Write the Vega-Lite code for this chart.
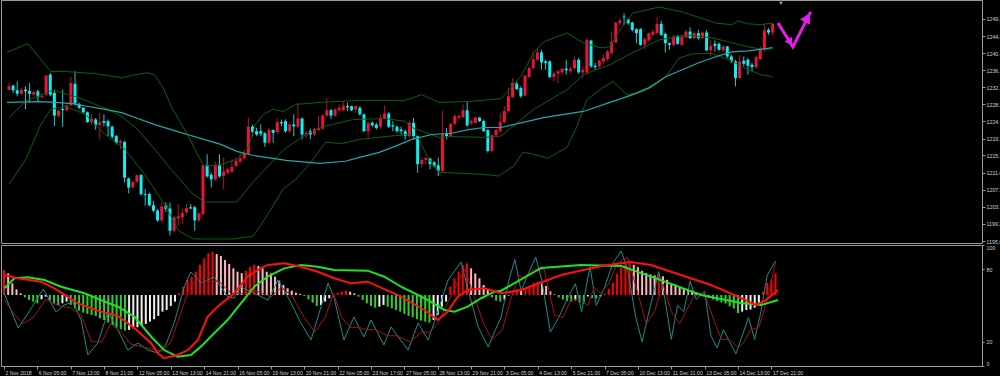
{
"$schema":"https://vega.github.io/schema/vega-lite/v6.json",
"background":"#000000",
"padding":{"left":-1,"top":-1,"right":0,"bottom":0},
"spacing":2,
"bounds":"flush",
"config":{"view":{"stroke":"#9a9a9a","strokeWidth":1},"axis":{"grid":false,"labelFont":"Liberation Sans","labelColor":"#d0d0d0","tickColor":"#9a9a9a","domain":false,"title":null,"labelFontSize":5.3,"labelOverlap":false,"tickCount":40}},
"datasets":{
"candles":[
{"i":0,"o":1231.8,"h":1233.4,"l":1231.65,"c":1232.6},{"i":1,"o":1232.8,"h":1233.0,"l":1231.0,"c":1231.65},{"i":2,"o":1231.65,"h":1233.8,"l":1230.2,"c":1230.8},{"i":3,"o":1230.8,"h":1232.2,"l":1230.6,"c":1231.8},{"i":4,"o":1231.8,"h":1232.6,"l":1227.0,"c":1231.4},{"i":5,"o":1231.5,"h":1233.4,"l":1228.6,"c":1230.8},{"i":6,"o":1230.6,"h":1231.4,"l":1230.2,"c":1231.25},{"i":7,"o":1231.4,"h":1231.8,"l":1229.0,"c":1230.0},{"i":8,"o":1230.0,"h":1230.8,"l":1229.6,"c":1230.3},{"i":9,"o":1230.6,"h":1235.45,"l":1230.2,"c":1235.2},
{"i":10,"o":1235.45,"h":1235.85,"l":1230.2,"c":1230.6},{"i":11,"o":1231.0,"h":1231.8,"l":1222.9,"c":1225.5},{"i":12,"o":1225.5,"h":1227.0,"l":1225.0,"c":1226.7},{"i":13,"o":1227.1,"h":1231.8,"l":1222.8,"c":1226.8},{"i":14,"o":1226.8,"h":1228.2,"l":1226.5,"c":1228.0},{"i":15,"o":1228.0,"h":1234.9,"l":1227.8,"c":1233.4},{"i":16,"o":1233.2,"h":1236.25,"l":1228.0,"c":1228.4},{"i":17,"o":1228.35,"h":1228.6,"l":1227.1,"c":1227.4},{"i":18,"o":1227.4,"h":1227.6,"l":1226.0,"c":1226.3},{"i":19,"o":1226.3,"h":1226.5,"l":1223.75,"c":1223.9},
{"i":20,"o":1223.9,"h":1225.8,"l":1223.3,"c":1224.7},{"i":21,"o":1224.55,"h":1224.9,"l":1222.1,"c":1223.2},{"i":22,"o":1223.2,"h":1226.2,"l":1219.7,"c":1223.9},{"i":23,"o":1224.15,"h":1225.8,"l":1222.9,"c":1223.75},{"i":24,"o":1224.15,"h":1224.55,"l":1220.5,"c":1222.9},{"i":25,"o":1222.8,"h":1223.1,"l":1219.9,"c":1220.35},{"i":26,"o":1220.5,"h":1220.8,"l":1218.5,"c":1218.9},{"i":27,"o":1218.9,"h":1219.7,"l":1217.3,"c":1219.3},{"i":28,"o":1219.1,"h":1219.3,"l":1209.2,"c":1210.4},{"i":29,"o":1210.2,"h":1210.4,"l":1206.6,"c":1208.0},
{"i":30,"o":1208.0,"h":1209.6,"l":1207.8,"c":1209.4},{"i":31,"o":1209.4,"h":1211.2,"l":1209.2,"c":1211.0},{"i":32,"o":1211.1,"h":1211.2,"l":1206.0,"c":1206.4},{"i":33,"o":1206.4,"h":1207.6,"l":1203.6,"c":1206.2},{"i":34,"o":1206.4,"h":1206.8,"l":1203.4,"c":1203.7},{"i":35,"o":1203.7,"h":1204.8,"l":1202.0,"c":1202.4},{"i":36,"o":1202.4,"h":1202.8,"l":1199.7,"c":1200.0},{"i":37,"o":1200.0,"h":1204.4,"l":1199.5,"c":1203.4},{"i":38,"o":1203.6,"h":1204.4,"l":1202.0,"c":1202.8},{"i":39,"o":1202.9,"h":1204.4,"l":1196.3,"c":1197.5},
{"i":40,"o":1197.5,"h":1201.2,"l":1197.2,"c":1200.75},{"i":41,"o":1200.5,"h":1204.0,"l":1198.7,"c":1201.0},{"i":42,"o":1200.75,"h":1202.8,"l":1199.1,"c":1201.8},{"i":43,"o":1202.0,"h":1204.0,"l":1201.55,"c":1203.0},{"i":44,"o":1203.2,"h":1204.0,"l":1202.8,"c":1202.9},{"i":45,"o":1203.2,"h":1203.6,"l":1197.5,"c":1200.0},{"i":46,"o":1200.0,"h":1202.0,"l":1199.7,"c":1201.7},{"i":47,"o":1201.55,"h":1213.7,"l":1201.2,"c":1213.4},{"i":48,"o":1213.4,"h":1216.1,"l":1210.4,"c":1210.7},{"i":49,"o":1211.1,"h":1211.6,"l":1208.0,"c":1210.0},
{"i":50,"o":1210.0,"h":1214.2,"l":1209.6,"c":1213.4},{"i":51,"o":1213.4,"h":1216.1,"l":1210.4,"c":1210.7},{"i":52,"o":1210.8,"h":1215.3,"l":1207.6,"c":1211.9},{"i":53,"o":1211.6,"h":1212.9,"l":1211.2,"c":1212.45},{"i":54,"o":1211.9,"h":1214.9,"l":1211.6,"c":1213.0},{"i":55,"o":1213.25,"h":1215.3,"l":1212.9,"c":1214.5},{"i":56,"o":1214.3,"h":1216.5,"l":1213.9,"c":1215.1},{"i":57,"o":1215.1,"h":1216.9,"l":1214.9,"c":1216.25},{"i":58,"o":1216.25,"h":1224.95,"l":1216.1,"c":1222.8},{"i":59,"o":1222.8,"h":1223.3,"l":1220.5,"c":1221.5},
{"i":60,"o":1221.7,"h":1222.5,"l":1220.5,"c":1220.9},{"i":61,"o":1221.7,"h":1223.35,"l":1220.5,"c":1221.1},{"i":62,"o":1221.2,"h":1221.5,"l":1217.9,"c":1218.9},{"i":63,"o":1218.9,"h":1222.5,"l":1218.5,"c":1222.0},{"i":64,"o":1222.0,"h":1222.1,"l":1218.9,"c":1221.3},{"i":65,"o":1221.5,"h":1224.9,"l":1220.9,"c":1223.9},{"i":66,"o":1223.9,"h":1224.55,"l":1222.9,"c":1223.6},{"i":67,"o":1224.15,"h":1224.55,"l":1221.3,"c":1221.7},{"i":68,"o":1221.7,"h":1223.75,"l":1221.3,"c":1223.35},{"i":69,"o":1223.35,"h":1225.8,"l":1220.5,"c":1222.9},
{"i":70,"o":1222.8,"h":1228.6,"l":1222.5,"c":1224.8},{"i":71,"o":1224.8,"h":1225.0,"l":1219.7,"c":1220.9},{"i":72,"o":1220.9,"h":1221.7,"l":1220.1,"c":1221.3},{"i":73,"o":1221.7,"h":1222.3,"l":1219.7,"c":1220.9},{"i":74,"o":1220.9,"h":1222.5,"l":1220.5,"c":1222.3},{"i":75,"o":1222.0,"h":1225.4,"l":1221.7,"c":1222.5},{"i":76,"o":1222.3,"h":1225.8,"l":1222.1,"c":1225.5},{"i":77,"o":1225.5,"h":1229.8,"l":1225.0,"c":1226.8},{"i":78,"o":1226.8,"h":1227.1,"l":1224.7,"c":1225.5},{"i":79,"o":1225.5,"h":1227.4,"l":1225.2,"c":1227.0},
{"i":80,"o":1226.8,"h":1228.2,"l":1226.6,"c":1227.4},{"i":81,"o":1226.8,"h":1229.0,"l":1226.6,"c":1227.9},{"i":82,"o":1227.8,"h":1228.6,"l":1226.6,"c":1227.5},{"i":83,"o":1227.8,"h":1227.9,"l":1226.6,"c":1226.8},{"i":84,"o":1227.0,"h":1227.9,"l":1226.2,"c":1227.8},{"i":85,"o":1227.4,"h":1227.8,"l":1225.5,"c":1225.8},{"i":86,"o":1225.8,"h":1226.0,"l":1221.5,"c":1221.7},{"i":87,"o":1221.7,"h":1224.15,"l":1220.1,"c":1223.6},{"i":88,"o":1223.75,"h":1224.15,"l":1222.8,"c":1223.1},{"i":89,"o":1223.3,"h":1223.75,"l":1222.1,"c":1222.5},
{"i":90,"o":1222.8,"h":1225.8,"l":1222.3,"c":1225.0},{"i":91,"o":1224.7,"h":1227.9,"l":1224.55,"c":1226.0},{"i":92,"o":1226.0,"h":1226.3,"l":1222.5,"c":1222.8},{"i":93,"o":1223.1,"h":1224.15,"l":1221.7,"c":1222.8},{"i":94,"o":1222.8,"h":1223.1,"l":1221.3,"c":1221.7},{"i":95,"o":1222.1,"h":1222.8,"l":1220.9,"c":1221.7},{"i":96,"o":1221.7,"h":1222.1,"l":1219.7,"c":1220.5},{"i":97,"o":1220.5,"h":1224.15,"l":1220.1,"c":1223.75},{"i":98,"o":1223.75,"h":1224.9,"l":1219.9,"c":1220.5},{"i":99,"o":1220.5,"h":1220.7,"l":1211.6,"c":1213.7},
{"i":100,"o":1213.7,"h":1215.3,"l":1212.85,"c":1214.7},{"i":101,"o":1214.7,"h":1215.3,"l":1213.7,"c":1215.2},{"i":102,"o":1215.0,"h":1215.3,"l":1212.45,"c":1213.7},{"i":103,"o":1214.1,"h":1214.5,"l":1212.85,"c":1213.25},{"i":104,"o":1213.4,"h":1215.3,"l":1210.8,"c":1212.05},{"i":105,"o":1212.05,"h":1226.6,"l":1211.6,"c":1221.1},{"i":106,"o":1221.1,"h":1222.5,"l":1219.7,"c":1220.5},{"i":107,"o":1220.5,"h":1223.75,"l":1220.1,"c":1223.5},{"i":108,"o":1223.5,"h":1225.8,"l":1223.1,"c":1225.4},{"i":109,"o":1225.0,"h":1225.8,"l":1224.55,"c":1225.4},
{"i":110,"o":1225.1,"h":1228.2,"l":1225.0,"c":1226.8},{"i":111,"o":1226.8,"h":1229.0,"l":1222.8,"c":1223.1},{"i":112,"o":1223.6,"h":1224.55,"l":1223.1,"c":1224.15},{"i":113,"o":1223.75,"h":1225.2,"l":1223.6,"c":1225.0},{"i":114,"o":1225.0,"h":1225.2,"l":1223.9,"c":1224.15},{"i":115,"o":1224.15,"h":1224.55,"l":1221.5,"c":1221.7},{"i":116,"o":1222.0,"h":1222.3,"l":1216.5,"c":1216.9},{"i":117,"o":1216.9,"h":1220.9,"l":1216.6,"c":1220.7},{"i":118,"o":1220.7,"h":1222.3,"l":1220.35,"c":1222.0},{"i":119,"o":1221.7,"h":1226.2,"l":1221.3,"c":1223.9},
{"i":120,"o":1223.9,"h":1227.8,"l":1223.6,"c":1226.6},{"i":121,"o":1226.6,"h":1232.2,"l":1226.2,"c":1230.2},{"i":122,"o":1230.04,"h":1234.64,"l":1229.8,"c":1233.43},{"i":123,"o":1233.26,"h":1233.83,"l":1231.65,"c":1231.97},{"i":124,"o":1232.2,"h":1232.6,"l":1229.8,"c":1230.2},{"i":125,"o":1230.36,"h":1235.44,"l":1230.2,"c":1235.2},{"i":126,"o":1234.88,"h":1237.46,"l":1234.64,"c":1237.06},{"i":127,"o":1237.06,"h":1241.1,"l":1236.65,"c":1239.24},{"i":128,"o":1239.07,"h":1241.9,"l":1238.67,"c":1240.85},{"i":129,"o":1240.85,"h":1241.5,"l":1236.65,"c":1238.43},
{"i":130,"o":1238.67,"h":1239.07,"l":1236.65,"c":1238.27},{"i":131,"o":1238.67,"h":1238.91,"l":1234.64,"c":1234.88},{"i":132,"o":1234.88,"h":1236.25,"l":1233.83,"c":1235.7},{"i":133,"o":1235.7,"h":1236.65,"l":1233.43,"c":1236.25},{"i":134,"o":1236.0,"h":1237.06,"l":1235.44,"c":1236.9},{"i":135,"o":1236.9,"h":1239.07,"l":1235.44,"c":1236.5},{"i":136,"o":1236.25,"h":1237.46,"l":1235.85,"c":1236.9},{"i":137,"o":1237.06,"h":1239.88,"l":1236.65,"c":1239.07},{"i":138,"o":1239.07,"h":1239.48,"l":1235.7,"c":1236.0},{"i":139,"o":1236.0,"h":1237.46,"l":1234.64,"c":1236.65},
{"i":140,"o":1236.0,"h":1244.32,"l":1235.44,"c":1243.92},{"i":141,"o":1243.75,"h":1243.92,"l":1237.06,"c":1237.46},{"i":142,"o":1237.62,"h":1238.27,"l":1236.65,"c":1237.3},{"i":143,"o":1237.46,"h":1239.07,"l":1237.06,"c":1238.83},{"i":144,"o":1238.67,"h":1240.28,"l":1238.27,"c":1239.48},{"i":145,"o":1239.24,"h":1241.5,"l":1238.67,"c":1241.1},{"i":146,"o":1240.7,"h":1245.93,"l":1240.28,"c":1243.51},{"i":147,"o":1243.27,"h":1248.35,"l":1243.1,"c":1248.1},{"i":148,"o":1247.95,"h":1249.16,"l":1247.55,"c":1248.6},{"i":149,"o":1249.57,"h":1250.37,"l":1247.55,"c":1249.4},
{"i":150,"o":1248.92,"h":1249.16,"l":1247.55,"c":1247.95},{"i":151,"o":1248.1,"h":1248.35,"l":1245.93,"c":1246.34},{"i":152,"o":1246.5,"h":1246.74,"l":1243.1,"c":1245.53},{"i":153,"o":1246.5,"h":1246.74,"l":1242.46,"c":1242.7},{"i":154,"o":1242.7,"h":1244.56,"l":1241.5,"c":1244.08},{"i":155,"o":1243.75,"h":1245.69,"l":1243.51,"c":1245.53},{"i":156,"o":1245.13,"h":1246.34,"l":1244.88,"c":1245.93},{"i":157,"o":1245.53,"h":1249.4,"l":1245.37,"c":1247.79},{"i":158,"o":1247.79,"h":1248.6,"l":1244.88,"c":1245.13},{"i":159,"o":1245.37,"h":1245.69,"l":1240.85,"c":1243.1},
{"i":160,"o":1243.1,"h":1243.27,"l":1241.5,"c":1242.7},{"i":161,"o":1242.7,"h":1245.13,"l":1242.3,"c":1244.72},{"i":162,"o":1244.88,"h":1245.13,"l":1242.7,"c":1242.95},{"i":163,"o":1242.7,"h":1245.13,"l":1242.3,"c":1244.72},{"i":164,"o":1244.56,"h":1246.34,"l":1244.32,"c":1245.93},{"i":165,"o":1245.93,"h":1246.98,"l":1244.08,"c":1244.32},{"i":166,"o":1244.32,"h":1245.93,"l":1244.08,"c":1245.53},{"i":167,"o":1245.53,"h":1246.34,"l":1243.92,"c":1244.32},{"i":168,"o":1244.32,"h":1245.93,"l":1244.08,"c":1245.69},{"i":169,"o":1245.69,"h":1246.34,"l":1241.1,"c":1241.33},
{"i":170,"o":1241.33,"h":1243.92,"l":1239.88,"c":1242.46},{"i":171,"o":1242.95,"h":1243.75,"l":1241.1,"c":1242.46},{"i":172,"o":1242.95,"h":1243.27,"l":1241.33,"c":1241.5},{"i":173,"o":1241.33,"h":1242.7,"l":1241.1,"c":1242.3},{"i":174,"o":1242.3,"h":1242.46,"l":1239.48,"c":1239.88},{"i":175,"o":1239.88,"h":1240.28,"l":1238.27,"c":1238.67},{"i":176,"o":1238.67,"h":1239.07,"l":1232.6,"c":1234.64},{"i":177,"o":1234.64,"h":1240.28,"l":1234.4,"c":1238.67},{"i":178,"o":1238.83,"h":1239.88,"l":1237.46,"c":1238.1},{"i":179,"o":1239.07,"h":1239.48,"l":1235.44,"c":1237.62},
{"i":180,"o":1237.86,"h":1238.27,"l":1236.25,"c":1237.3},{"i":181,"o":1237.2,"h":1240.04,"l":1237.06,"c":1239.72},{"i":182,"o":1239.24,"h":1242.46,"l":1239.07,"c":1241.66},{"i":183,"o":1241.5,"h":1247.95,"l":1240.85,"c":1246.18},{"i":184,"o":1246.34,"h":1246.74,"l":1245.13,"c":1245.69},{"i":185,"o":1245.69,"h":1248.04,"l":1244.86,"c":1247.83}
],
"bands":[
{"s":"u","i":-0.45,"v":1240.9},{"s":"u","i":4.6,"v":1243.0},{"s":"u","i":10.1,"v":1236.2},{"s":"u","i":13.7,"v":1236.2},{"s":"u","i":20.9,"v":1235.7},{"s":"u","i":27.3,"v":1234.7},{"s":"u","i":30.5,"v":1235.4},{"s":"u","i":33.6,"v":1235.9},{"s":"u","i":35.3,"v":1235.4},{"s":"u","i":37.6,"v":1231.8},{"s":"u","i":39.3,"v":1227.7},{"s":"u","i":43.2,"v":1220.9},{"s":"u","i":47.2,"v":1213.2},{"s":"u","i":51.3,"v":1213.6},{"s":"u","i":55.2,"v":1214.9},{"s":"u","i":58,"v":1217.8},{"s":"u","i":59.7,"v":1223.3},{"s":"u","i":61.6,"v":1225.8},{"s":"u","i":64,"v":1227.0},{"s":"u","i":66.4,"v":1226.5},{"s":"u","i":69.5,"v":1228.2},{"s":"u","i":75.3,"v":1228.7},{"s":"u","i":84.9,"v":1229.2},{"s":"u","i":95.9,"v":1229.2},{"s":"u","i":100,"v":1230.6},{"s":"u","i":104.1,"v":1228.7},{"s":"u","i":111.3,"v":1228.9},{"s":"u","i":119.2,"v":1229.6},{"s":"u","i":124,"v":1235.0},{"s":"u","i":127.1,"v":1240.8},{"s":"u","i":129.5,"v":1243.4},{"s":"u","i":135.2,"v":1245.6},{"s":"u","i":139.1,"v":1243.2},{"s":"u","i":143.2,"v":1242.0},{"s":"u","i":145.6,"v":1242.2},{"s":"u","i":148,"v":1246.3},{"s":"u","i":151.1,"v":1250.4},{"s":"u","i":157.5,"v":1251.9},{"s":"u","i":163.1,"v":1250.7},{"s":"u","i":171.2,"v":1248.0},{"s":"u","i":175.1,"v":1247.6},{"s":"u","i":176.7,"v":1248.5},{"s":"u","i":179.1,"v":1247.8},{"s":"u","i":182.2,"v":1247.6},{"s":"u","i":185,"v":1248.0},
{"s":"m","i":0,"v":1225.0},{"s":"m","i":4.1,"v":1229.0},{"s":"m","i":10.6,"v":1231.7},{"s":"m","i":16.8,"v":1229.9},{"s":"m","i":24,"v":1227.0},{"s":"m","i":27.3,"v":1225.3},{"s":"m","i":31.2,"v":1222.1},{"s":"m","i":35.3,"v":1217.3},{"s":"m","i":39.3,"v":1212.4},{"s":"m","i":44.1,"v":1206.9},{"s":"m","i":47.2,"v":1204.5},{"s":"m","i":55.2,"v":1204.5},{"s":"m","i":59.2,"v":1209.4},{"s":"m","i":66.4,"v":1217.1},{"s":"m","i":71.2,"v":1220.4},{"s":"m","i":75.3,"v":1222.6},{"s":"m","i":83.2,"v":1224.5},{"s":"m","i":91.1,"v":1224.8},{"s":"m","i":95.9,"v":1224.1},{"s":"m","i":97.6,"v":1222.6},{"s":"m","i":104.1,"v":1220.2},{"s":"m","i":107.2,"v":1220.4},{"s":"m","i":115.1,"v":1220.2},{"s":"m","i":119.2,"v":1220.5},{"s":"m","i":127.1,"v":1227.0},{"s":"m","i":135.2,"v":1231.8},{"s":"m","i":139.1,"v":1235.4},{"s":"m","i":145.6,"v":1237.9},{"s":"m","i":151.1,"v":1240.8},{"s":"m","i":157.5,"v":1243.9},{"s":"m","i":164,"v":1245.1},{"s":"m","i":170.3,"v":1244.4},{"s":"m","i":175.1,"v":1243.2},{"s":"m","i":179.1,"v":1242.2},{"s":"m","i":182.2,"v":1241.7},{"s":"m","i":185,"v":1241.7},
{"s":"l","i":0,"v":1208.8},{"s":"l","i":4.1,"v":1214.9},{"s":"l","i":7.7,"v":1223.3},{"s":"l","i":10.1,"v":1227.0},{"s":"l","i":13.7,"v":1227.7},{"s":"l","i":18.5,"v":1225.8},{"s":"l","i":23.3,"v":1220.9},{"s":"l","i":28.1,"v":1217.3},{"s":"l","i":32.9,"v":1211.2},{"s":"l","i":37.6,"v":1204.0},{"s":"l","i":41.2,"v":1197.4},{"s":"l","i":44.8,"v":1195.5},{"s":"l","i":54.4,"v":1195.5},{"s":"l","i":59.2,"v":1196.2},{"s":"l","i":62.8,"v":1201.6},{"s":"l","i":66.4,"v":1207.6},{"s":"l","i":69.5,"v":1210.0},{"s":"l","i":73.1,"v":1214.1},{"s":"l","i":76.7,"v":1219.0},{"s":"l","i":80.8,"v":1218.7},{"s":"l","i":84.9,"v":1219.7},{"s":"l","i":91.1,"v":1220.4},{"s":"l","i":96.9,"v":1220.9},{"s":"l","i":99.3,"v":1219.7},{"s":"l","i":101.7,"v":1214.9},{"s":"l","i":104.3,"v":1211.7},{"s":"l","i":115.1,"v":1211.2},{"s":"l","i":118.5,"v":1210.8},{"s":"l","i":122.3,"v":1213.2},{"s":"l","i":124.5,"v":1216.6},{"s":"l","i":127.1,"v":1216.1},{"s":"l","i":130.5,"v":1215.1},{"s":"l","i":135.2,"v":1217.8},{"s":"l","i":137.6,"v":1222.9},{"s":"l","i":140,"v":1229.4},{"s":"l","i":143.2,"v":1231.8},{"s":"l","i":146.3,"v":1233.8},{"s":"l","i":149.6,"v":1230.6},{"s":"l","i":152.8,"v":1231.1},{"s":"l","i":155.9,"v":1232.5},{"s":"l","i":159.2,"v":1235.0},{"s":"l","i":162.3,"v":1239.5},{"s":"l","i":165.5,"v":1240.5},{"s":"l","i":170.3,"v":1240.6},{"s":"l","i":175.1,"v":1238.8},{"s":"l","i":178,"v":1237.1},{"s":"l","i":182.2,"v":1235.4},{"s":"l","i":185,"v":1235.0}
],
"ma":[
{"i":-0.45,"v":1228.7},{"i":7.2,"v":1228.9},{"i":11.3,"v":1228.7},{"i":15.3,"v":1228.4},{"i":19.2,"v":1227.7},{"i":23.3,"v":1227.0},{"i":27.3,"v":1226.2},{"i":31.2,"v":1224.8},{"i":35.3,"v":1223.3},{"i":39.3,"v":1222.1},{"i":43.2,"v":1220.9},{"i":47.2,"v":1219.7},{"i":51.3,"v":1218.5},{"i":55.2,"v":1216.8},{"i":59.2,"v":1215.8},{"i":64,"v":1215.1},{"i":67.1,"v":1214.6},{"i":75.3,"v":1213.9},{"i":81.5,"v":1214.4},{"i":84.9,"v":1215.35},{"i":89.7,"v":1216.55},{"i":93.5,"v":1218.0},{"i":97.6,"v":1219.7},{"i":102.4,"v":1220.9},{"i":107.2,"v":1221.2},{"i":111.3,"v":1222.1},{"i":115.1,"v":1222.6},{"i":119.2,"v":1222.6},{"i":129.5,"v":1225.0},{"i":139.1,"v":1226.5},{"i":145.6,"v":1228.7},{"i":151.1,"v":1230.6},{"i":155.1,"v":1232.3},{"i":159.2,"v":1235.0},{"i":163.1,"v":1236.65},{"i":167.1,"v":1238.35},{"i":171.2,"v":1239.8},{"i":175.1,"v":1241.0},{"i":179.1,"v":1241.25},{"i":185,"v":1242.0}
],
"hist":[
{"i":0,"osma":0.825},{"i":1,"osma":0.715},{"i":2,"osma":0.385},{"i":3,"osma":0.187},{"i":4,"osma":0.055},{"i":5,"osma":-0.077},{"i":6,"osma":-0.165},{"i":7,"osma":-0.22},{"i":8,"osma":-0.275},{"i":9,"osma":-0.143},{"i":10,"osma":-0.055},{"i":11,"osma":-0.187},{"i":12,"osma":-0.297},{"i":13,"osma":-0.33},{"i":14,"osma":-0.275},{"i":15,"osma":-0.22},{"i":16,"osma":-0.33},{"i":17,"osma":-0.44},{"i":18,"osma":-0.517},{"i":19,"osma":-0.583},{"i":20,"osma":-0.627},{"i":21,"osma":-0.66},{"i":22,"osma":-0.693},{"i":23,"osma":-0.77},{"i":24,"osma":-0.825},{"i":25,"osma":-0.913},{"i":26,"osma":-0.99},{"i":27,"osma":-1.067},{"i":28,"osma":-1.133},{"i":29,"osma":-1.177},{"i":30,"osma":-1.155},{"i":31,"osma":-1.1},{"i":32,"osma":-1.067},{"i":33,"osma":-1.023},{"i":34,"osma":-0.957},{"i":35,"osma":-0.88},{"i":36,"osma":-0.803},{"i":37,"osma":-0.693},{"i":38,"osma":-0.55},{"i":39,"osma":-0.495},{"i":40,"osma":-0.363},{"i":41,"osma":-0.22},{"i":42,"osma":0.055},{"i":43,"osma":0.275},{"i":44,"osma":0.495},{"i":45,"osma":0.605},{"i":46,"osma":0.77},{"i":47,"osma":0.99},{"i":48,"osma":1.21},{"i":49,"osma":1.375},{"i":50,"osma":1.43},{"i":51,"osma":1.353},{"i":52,"osma":1.287},{"i":53,"osma":1.155},{"i":54,"osma":1.023},{"i":55,"osma":0.88},{"i":56,"osma":0.77},{"i":57,"osma":0.72},{"i":58,"osma":0.8},{"i":59,"osma":0.93},{"i":60,"osma":1.0},{"i":61,"osma":0.96},{"i":62,"osma":0.88},{"i":63,"osma":0.77},{"i":64,"osma":0.715},{"i":65,"osma":0.605},{"i":66,"osma":0.473},{"i":67,"osma":0.33},{"i":68,"osma":0.22},{"i":69,"osma":0.143},{"i":70,"osma":0.077},{"i":71,"osma":0.033},{"i":72,"osma":-0.033},{"i":73,"osma":-0.143},{"i":74,"osma":-0.253},{"i":75,"osma":-0.363},{"i":76,"osma":-0.33},{"i":77,"osma":-0.22},{"i":78,"osma":-0.11},{"i":79,"osma":0.01},{"i":80,"osma":0.077},{"i":81,"osma":0.11},{"i":82,"osma":0.143},{"i":83,"osma":0.11},{"i":84,"osma":0.055},{"i":85,"osma":-0.055},{"i":86,"osma":-0.165},{"i":87,"osma":-0.275},{"i":88,"osma":-0.363},{"i":89,"osma":-0.418},{"i":90,"osma":-0.385},{"i":91,"osma":-0.33},{"i":92,"osma":-0.385},{"i":93,"osma":-0.44},{"i":94,"osma":-0.495},{"i":95,"osma":-0.55},{"i":96,"osma":-0.627},{"i":97,"osma":-0.693},{"i":98,"osma":-0.737},{"i":99,"osma":-0.803},{"i":100,"osma":-0.847},{"i":101,"osma":-0.88},{"i":102,"osma":-0.913},{"i":103,"osma":-0.825},{"i":104,"osma":-0.66},{"i":105,"osma":-0.385},{"i":106,"osma":-0.22},{"i":107,"osma":0.275},{"i":108,"osma":0.55},{"i":109,"osma":0.77},{"i":110,"osma":0.99},{"i":111,"osma":1.045},{"i":112,"osma":0.88},{"i":113,"osma":0.715},{"i":114,"osma":0.55},{"i":115,"osma":0.33},{"i":116,"osma":0.165},{"i":117,"osma":-0.077},{"i":118,"osma":-0.187},{"i":119,"osma":-0.22},
{"i":120,"osma":-0.15},{"i":121,"osma":-0.02},{"i":122,"osma":0.12},{"i":123,"osma":0.18},{"i":124,"osma":0.15},{"i":125,"osma":0.22},{"i":126,"osma":0.3},{"i":127,"osma":0.4},{"i":128,"osma":0.45},{"i":129,"osma":0.38},{"i":130,"osma":0.3},{"i":131,"osma":0.12},{"i":132,"osma":0.02},{"i":133,"osma":-0.08},{"i":134,"osma":-0.15},{"i":135,"osma":-0.2},{"i":136,"osma":-0.22},{"i":137,"osma":-0.18},{"i":138,"osma":-0.25},{"i":139,"osma":-0.28},{"i":140,"osma":-0.05},{"i":141,"osma":-0.1},{"i":142,"osma":-0.12},{"i":143,"osma":-0.05},{"i":144,"osma":0.05},{"i":145,"osma":0.2},{"i":146,"osma":0.4},{"i":147,"osma":0.7},{"i":148,"osma":0.9},{"i":149,"osma":1.0},{"i":150,"osma":1.05},{"i":151,"osma":1.0},{"i":152,"osma":0.92},{"i":153,"osma":0.8},{"i":154,"osma":0.72},{"i":155,"osma":0.68},{"i":156,"osma":0.65},{"i":157,"osma":0.7},{"i":158,"osma":0.62},{"i":159,"osma":0.5},{"i":160,"osma":0.4},{"i":161,"osma":0.35},{"i":162,"osma":0.28},{"i":163,"osma":0.22},{"i":164,"osma":0.2},{"i":165,"osma":0.15},{"i":166,"osma":0.1},{"i":167,"osma":0.05},{"i":168,"osma":0.02},{"i":169,"osma":-0.1},{"i":170,"osma":-0.15},{"i":171,"osma":-0.2},{"i":172,"osma":-0.25},{"i":173,"osma":-0.28},{"i":174,"osma":-0.38},{"i":175,"osma":-0.45},{"i":176,"osma":-0.6},{"i":177,"osma":-0.55},{"i":178,"osma":-0.5},{"i":179,"osma":-0.48},{"i":180,"osma":-0.42},{"i":181,"osma":-0.3},{"i":182,"osma":0.1},{"i":183,"osma":0.4},{"i":184,"osma":0.5},{"i":185,"osma":0.72}
],
"stoch":[
{"s":"K","i":0,"v":60.3},{"s":"K","i":1.7,"v":46},{"s":"K","i":3.4,"v":31.4},{"s":"K","i":5.8,"v":43.8},{"s":"K","i":9.4,"v":63.6},{"s":"K","i":12.5,"v":44.6},{"s":"K","i":14.4,"v":50.4},{"s":"K","i":16.5,"v":52.9},{"s":"K","i":18.5,"v":38},{"s":"K","i":20.1,"v":9.1},{"s":"K","i":22.5,"v":19},{"s":"K","i":24.9,"v":44.6},{"s":"K","i":27.3,"v":29.8},{"s":"K","i":29.7,"v":13.2},{"s":"K","i":32.1,"v":19},{"s":"K","i":34.5,"v":13.2},{"s":"K","i":36.9,"v":10.7},{"s":"K","i":38.8,"v":17.4},{"s":"K","i":40.8,"v":35.5},{"s":"K","i":43.2,"v":65.3},{"s":"K","i":44.8,"v":77.7},{"s":"K","i":47.2,"v":68.6},{"s":"K","i":50.4,"v":73.6},{"s":"K","i":53.7,"v":57},{"s":"K","i":55.2,"v":56.2},{"s":"K","i":56.8,"v":65.3},{"s":"K","i":59.9,"v":60.3},{"s":"K","i":63.3,"v":54.5},{"s":"K","i":65.7,"v":71.1},{"s":"K","i":68.1,"v":57},{"s":"K","i":71.2,"v":35.5},{"s":"K","i":73.6,"v":21.5},{"s":"K","i":76,"v":48.8},{"s":"K","i":77.7,"v":68.6},{"s":"K","i":79.1,"v":57},{"s":"K","i":81.5,"v":21.5},{"s":"K","i":83.9,"v":40.5},{"s":"K","i":86.3,"v":24},{"s":"K","i":88,"v":38},{"s":"K","i":91.1,"v":17.4},{"s":"K","i":92.8,"v":32.2},{"s":"K","i":96.9,"v":13.2},{"s":"K","i":99.3,"v":35.5},{"s":"K","i":101.7,"v":21.5},{"s":"K","i":103.1,"v":35.5},{"s":"K","i":106.5,"v":71.1},{"s":"K","i":109.6,"v":86},{"s":"K","i":111.3,"v":62.8},{"s":"K","i":113.7,"v":32.2},{"s":"K","i":116.1,"v":15.7},{"s":"K","i":117.5,"v":27.3},{"s":"K","i":119.2,"v":40.5},{"s":"K","i":121,"v":70},{"s":"K","i":122.5,"v":88},{"s":"K","i":124,"v":62},{"s":"K","i":125.5,"v":75},{"s":"K","i":127.5,"v":90},{"s":"K","i":129,"v":70},{"s":"K","i":131,"v":28},{"s":"K","i":133,"v":40},{"s":"K","i":135,"v":55},{"s":"K","i":137,"v":68},{"s":"K","i":138.5,"v":45},{"s":"K","i":140.5,"v":82},{"s":"K","i":142,"v":50},{"s":"K","i":144,"v":65},{"s":"K","i":146,"v":85},{"s":"K","i":148,"v":95},{"s":"K","i":149.5,"v":80},{"s":"K","i":151.5,"v":40},{"s":"K","i":153,"v":20},{"s":"K","i":155,"v":50},{"s":"K","i":157,"v":78},{"s":"K","i":158.5,"v":55},{"s":"K","i":160,"v":22},{"s":"K","i":161.5,"v":50},{"s":"K","i":163,"v":45},{"s":"K","i":164.5,"v":70},{"s":"K","i":166,"v":55},{"s":"K","i":168,"v":62},{"s":"K","i":169.5,"v":25},{"s":"K","i":171,"v":15},{"s":"K","i":172.5,"v":30},{"s":"K","i":174,"v":20},{"s":"K","i":175.5,"v":10},{"s":"K","i":177,"v":25},{"s":"K","i":178.5,"v":40},{"s":"K","i":180,"v":22},{"s":"K","i":181.5,"v":45},{"s":"K","i":183,"v":75},{"s":"K","i":185,"v":86.9},
{"s":"D","i":0,"v":55},{"s":"D","i":2,"v":45},{"s":"D","i":4.5,"v":35},{"s":"D","i":7,"v":40},{"s":"D","i":10,"v":55},{"s":"D","i":13,"v":50},{"s":"D","i":16,"v":48},{"s":"D","i":18.5,"v":42},{"s":"D","i":21,"v":20},{"s":"D","i":23.5,"v":20},{"s":"D","i":25.5,"v":35},{"s":"D","i":28,"v":28},{"s":"D","i":30.5,"v":18},{"s":"D","i":33,"v":16},{"s":"D","i":35.5,"v":14},{"s":"D","i":38,"v":12},{"s":"D","i":40,"v":20},{"s":"D","i":42,"v":40},{"s":"D","i":44.5,"v":65},{"s":"D","i":46.5,"v":73},{"s":"D","i":49,"v":70},{"s":"D","i":51.5,"v":70},{"s":"D","i":54.5,"v":60},{"s":"D","i":57,"v":60},{"s":"D","i":60.5,"v":62},{"s":"D","i":64,"v":57},{"s":"D","i":66.5,"v":65},{"s":"D","i":69,"v":58},{"s":"D","i":72,"v":40},{"s":"D","i":74.5,"v":28},{"s":"D","i":77,"v":40},{"s":"D","i":79,"v":60},{"s":"D","i":81,"v":40},{"s":"D","i":83,"v":32},{"s":"D","i":85,"v":32},{"s":"D","i":87,"v":30},{"s":"D","i":89,"v":30},{"s":"D","i":92,"v":25},{"s":"D","i":94,"v":25},{"s":"D","i":97.5,"v":20},{"s":"D","i":100,"v":28},{"s":"D","i":102,"v":28},{"s":"D","i":104,"v":35},{"s":"D","i":107.5,"v":60},{"s":"D","i":110.5,"v":80},{"s":"D","i":112.5,"v":60},{"s":"D","i":115,"v":35},{"s":"D","i":117,"v":22},{"s":"D","i":119.5,"v":30},{"s":"D","i":121.5,"v":55},{"s":"D","i":123.5,"v":75},{"s":"D","i":125,"v":72},{"s":"D","i":127,"v":80},{"s":"D","i":129.5,"v":80},{"s":"D","i":132,"v":42},{"s":"D","i":134,"v":40},{"s":"D","i":136,"v":55},{"s":"D","i":138.5,"v":55},{"s":"D","i":140,"v":50},{"s":"D","i":141.5,"v":65},{"s":"D","i":143,"v":60},{"s":"D","i":145,"v":68},{"s":"D","i":147,"v":85},{"s":"D","i":149.5,"v":90},{"s":"D","i":152,"v":60},{"s":"D","i":154,"v":35},{"s":"D","i":156,"v":45},{"s":"D","i":158,"v":68},{"s":"D","i":160,"v":45},{"s":"D","i":162,"v":35},{"s":"D","i":163.5,"v":45},{"s":"D","i":165.5,"v":58},{"s":"D","i":168,"v":60},{"s":"D","i":170,"v":40},{"s":"D","i":172,"v":22},{"s":"D","i":174,"v":22},{"s":"D","i":176,"v":15},{"s":"D","i":177.5,"v":20},{"s":"D","i":179,"v":30},{"s":"D","i":181,"v":32},{"s":"D","i":183,"v":55},{"s":"D","i":185,"v":86.1}
],
"macd":[
{"s":"G","i":0.1,"v":64.2},{"s":"G","i":2.5,"v":72.5},{"s":"G","i":5.7,"v":73.3},{"s":"G","i":9.7,"v":71.1},{"s":"G","i":13.7,"v":65.5},{"s":"G","i":19.3,"v":60.1},{"s":"G","i":23.3,"v":54.5},{"s":"G","i":27.3,"v":49},{"s":"G","i":31.3,"v":40.7},{"s":"G","i":35.3,"v":24.2},{"s":"G","i":38.4,"v":13.2},{"s":"G","i":41.6,"v":7.7},{"s":"G","i":44.8,"v":9.1},{"s":"G","i":47.2,"v":16},{"s":"G","i":50.4,"v":27},{"s":"G","i":53.6,"v":38},{"s":"G","i":56.8,"v":51.8},{"s":"G","i":60,"v":65.5},{"s":"G","i":63.2,"v":73.8},{"s":"G","i":67.2,"v":80.7},{"s":"G","i":71.2,"v":83.5},{"s":"G","i":75.2,"v":82},{"s":"G","i":79.2,"v":79.3},{"s":"G","i":87.2,"v":78.8},{"s":"G","i":91.2,"v":73.8},{"s":"G","i":95.2,"v":65.5},{"s":"G","i":100.8,"v":56},{"s":"G","i":105.6,"v":46.3},{"s":"G","i":108,"v":44.9},{"s":"G","i":111.2,"v":49},{"s":"G","i":114.4,"v":56},{"s":"G","i":117.6,"v":61.4},{"s":"G","i":119.2,"v":62.2},{"s":"G","i":128.8,"v":81},{"s":"G","i":138.4,"v":83.5},{"s":"G","i":148,"v":82.6},{"s":"G","i":157.5,"v":71},{"s":"G","i":167.1,"v":58.7},{"s":"G","i":176.7,"v":52},{"s":"G","i":181.5,"v":50.4},{"s":"G","i":185.6,"v":54.5},
{"s":"R","i":0.1,"v":75.2},{"s":"R","i":3.3,"v":72.5},{"s":"R","i":8.9,"v":69.7},{"s":"R","i":12.1,"v":64.2},{"s":"R","i":17.7,"v":51.8},{"s":"R","i":23.3,"v":44.9},{"s":"R","i":27.3,"v":41.3},{"s":"R","i":31.3,"v":31.1},{"s":"R","i":35.3,"v":18.8},{"s":"R","i":36.9,"v":10.5},{"s":"R","i":38.4,"v":6.4},{"s":"R","i":41.6,"v":9.1},{"s":"R","i":44.1,"v":13.2},{"s":"R","i":46.5,"v":21.5},{"s":"R","i":48.8,"v":40.7},{"s":"R","i":51.2,"v":49},{"s":"R","i":55.2,"v":60.1},{"s":"R","i":58.4,"v":73.8},{"s":"R","i":60.8,"v":79.3},{"s":"R","i":63.2,"v":83.5},{"s":"R","i":67.2,"v":84.9},{"s":"R","i":71.2,"v":82},{"s":"R","i":75.2,"v":77.9},{"s":"R","i":79.2,"v":72.5},{"s":"R","i":83.2,"v":68.3},{"s":"R","i":87.2,"v":69.7},{"s":"R","i":95.2,"v":57.3},{"s":"R","i":100.8,"v":46.3},{"s":"R","i":104,"v":38},{"s":"R","i":106.4,"v":44.9},{"s":"R","i":108.8,"v":57.3},{"s":"R","i":111.2,"v":62.8},{"s":"R","i":115.2,"v":64.2},{"s":"R","i":119.2,"v":60.1},{"s":"R","i":124,"v":62.8},{"s":"R","i":133.6,"v":75.2},{"s":"R","i":143.2,"v":82.6},{"s":"R","i":150.3,"v":86},{"s":"R","i":155.1,"v":83.5},{"s":"R","i":162.3,"v":75.2},{"s":"R","i":169.5,"v":67},{"s":"R","i":176.7,"v":56.2},{"s":"R","i":180.3,"v":50.4},{"s":"R","i":182.7,"v":54.5},{"s":"R","i":185.6,"v":62.8}
],
"arrow":[{"k":0,"i":186.3,"p":1248.0},{"k":1,"i":189.9,"p":1242.2},{"k":2,"i":194.2,"p":1250.7}]
},
"vconcat":[
{
"width":981,"height":243,
"encoding":{"x":{"field":"i","type":"quantitative","scale":{"domain":[-0.72,234.5],"nice":false,"zero":false},"axis":null}},
"layer":[
{"data":{"name":"candles"},"mark":{"type":"rule","strokeWidth":1},
 "encoding":{"y":{"field":"l","type":"quantitative","scale":{"domain":[1194.52,1253.6],"nice":false,"zero":false},
   "axis":{"orient":"right","values":[1249,1244.8,1240.7,1236.5,1232.4,1228.2,1224.1,1219.9,1215.8,1211.6,1207.5,1203.3,1199.2,1195],"format":".2f","tickCount":40,"tickSize":3,"labelPadding":1,"labelOverlap":false,"labelBaseline":"middle"}},
  "y2":{"field":"h"},
  "color":{"condition":{"test":"datum.c > datum.o","value":"#b0102c"},"value":"#22c8cc"}}},
{"data":{"name":"candles"},"mark":{"type":"bar","width":3,"orient":"vertical"},
 "encoding":{"y":{"field":"o","type":"quantitative"},"y2":{"field":"c"},
  "color":{"condition":{"test":"datum.c > datum.o","value":"#e8143c"},"value":"#10eef2"}}},
{"data":{"name":"bands"},"mark":{"type":"line","strokeWidth":1,"color":"#0b610b","clip":true},
 "encoding":{"y":{"field":"v","type":"quantitative"},"detail":{"field":"s"}}},
{"data":{"name":"ma"},"mark":{"type":"line","strokeWidth":1.2,"color":"#1fa8ae","clip":true},
 "encoding":{"y":{"field":"v","type":"quantitative"}}},
{"data":{"values":[{"p":1247.83}]},"mark":{"type":"rule","strokeWidth":1,"color":"#a8a8a8"},
 "encoding":{"y":{"field":"p","type":"quantitative"},"x":{"datum":-0.72},"x2":{"datum":234.5}}},
{"data":{"values":[{"t":"▾ GOLD,H4  1245.69 1248.04 1244.86 1247.83"}]},"mark":{"type":"text","align":"left","baseline":"middle","fontSize":5.3,"font":"Liberation Sans","color":"#e6e6e6"},
 "encoding":{"x":{"datum":0.5},"y":{"datum":1252.4},"text":{"field":"t"}}},
{"data":{"values":[{"t":"1247.83"}]},"mark":{"type":"rect","color":"#f2f2f2"},
 "encoding":{"x":{"datum":234.7},"x2":{"datum":240},"y":{"datum":1248.55},"y2":{"datum":1247.1}}},
{"data":{"values":[{"t":"1247.83"}]},"mark":{"type":"text","align":"left","baseline":"middle","fontSize":5.3,"font":"Liberation Sans","color":"#000000"},
 "encoding":{"x":{"datum":235.1},"y":{"datum":1247.83},"text":{"field":"t"}}},
{"data":{"name":"arrow"},"mark":{"type":"line","strokeWidth":3,"color":"#e41ee4"},
 "encoding":{"x":{"field":"i","type":"quantitative"},"y":{"field":"p","type":"quantitative"},"order":{"field":"k"}}},
{"data":{"values":[{"i":189.3,"p":1243.3}]},"mark":{"type":"point","shape":"triangle-up","filled":true,"size":80,"angle":148,"color":"#e41ee4","opacity":1},
 "encoding":{"x":{"field":"i","type":"quantitative"},"y":{"field":"p","type":"quantitative"}}},
{"data":{"values":[{"i":193.4,"p":1249.3}]},"mark":{"type":"point","shape":"triangle-up","filled":true,"size":130,"angle":27,"color":"#e41ee4","opacity":1},
 "encoding":{"x":{"field":"i","type":"quantitative"},"y":{"field":"p","type":"quantitative"}}},
{"data":{"values":[{"i":187.0,"p":1252.8}]},"mark":{"type":"point","shape":"triangle-down","filled":true,"size":12,"color":"#b0b0b0","opacity":1},
 "encoding":{"x":{"field":"i","type":"quantitative"},"y":{"field":"p","type":"quantitative"}}}
]
},
{
"width":981,"height":121,
"encoding":{"x":{"field":"i","type":"quantitative","scale":{"domain":[-0.72,234.5],"nice":false,"zero":false},
  "axis":{"orient":"bottom","values":[0,8,16,24,32,40,48,56,64,72,80,88,96,104,112,120,128,136,144,152,160,168,176,184],"tickCount":40,
   "labelExpr":"['2 Nov 2018','6 Nov 05:00','7 Nov 13:00','8 Nov 21:00','12 Nov 05:00','13 Nov 13:00','14 Nov 21:00','16 Nov 05:00','19 Nov 13:00','20 Nov 21:00','22 Nov 05:00','23 Nov 17:00','27 Nov 05:00','28 Nov 13:00','29 Nov 21:00','3 Dec 05:00','4 Dec 13:00','5 Dec 21:00','7 Dec 05:00','10 Dec 13:00','11 Dec 21:00','13 Dec 05:00','14 Dec 13:00','17 Dec 21:00'][round(datum.value/8)]",
   "labelAlign":"left","labelOffset":1,"tickSize":3,"labelPadding":1,"labelOverlap":false,"labelFlush":false,"labelFontSize":5.1}}},
"resolve":{"scale":{"y":"independent","color":"independent"}},
"layer":[
{"data":{"values":[{"lv":20},{"lv":80}]},"mark":{"type":"rule","strokeWidth":1,"strokeDash":[2,2],"color":"#8a8a8a"},
 "encoding":{"y":{"field":"lv","type":"quantitative","scale":{"domain":[0,100],"nice":false,"zero":false},
   "axis":{"orient":"right","values":[0,20,80,100],"tickCount":10,"tickSize":2,"labelPadding":2,"labelFlush":true,"labelOverlap":false}}}},
{"data":{"name":"hist"},
 "transform":[{"window":[{"op":"lag","field":"osma","as":"prev"}],"sort":[{"field":"i","order":"ascending"}]},
  {"calculate":"datum.osma >= 0 ? ((datum.prev == null || datum.osma >= datum.prev) ? 'ur' : 'ud') : ((datum.prev != null && datum.osma > datum.prev) ? 'du' : 'dd')","as":"cat"}],
 "mark":{"type":"rule","strokeWidth":2},
 "encoding":{"y":{"field":"osma","type":"quantitative","scale":{"domain":[-2.348,1.652],"nice":false,"zero":false},"axis":null},
  "y2":{"datum":0},
  "color":{"field":"cat","type":"nominal","scale":{"domain":["ur","ud","dd","du"],"range":["#ff0000","#ffb6c1","#32cd32","#f0f0f0"]},"legend":null}}},
{"data":{"name":"stoch"},"mark":{"type":"line","strokeWidth":1},
 "encoding":{"y":{"field":"v","type":"quantitative","scale":{"domain":[0,100],"nice":false,"zero":false},"axis":null},
  "color":{"field":"s","type":"nominal","scale":{"domain":["K","D"],"range":["#1c8c8c","#a81212"]},"legend":null}}},
{"data":{"name":"macd"},"mark":{"type":"line","strokeWidth":2},
 "encoding":{"y":{"field":"v","type":"quantitative","scale":{"domain":[0,100],"nice":false,"zero":false},"axis":null},
  "color":{"field":"s","type":"nominal","scale":{"domain":["R","G"],"range":["#ff1010","#22e022"]},"legend":null}}},
{"data":{"values":[{"t":"Sto(5,3,3) 86.8773 86.1352   MACD_OsMA [CurrTF] (12,26,9) 0.4909 -0.7753"}]},"mark":{"type":"text","align":"left","baseline":"middle","fontSize":5.3,"font":"Liberation Sans","color":"#e6e6e6"},
 "encoding":{"x":{"datum":0.5},"y":{"datum":96,"scale":{"domain":[0,100],"nice":false,"zero":false},"axis":null},"text":{"field":"t"}}}
]
}
]
}
